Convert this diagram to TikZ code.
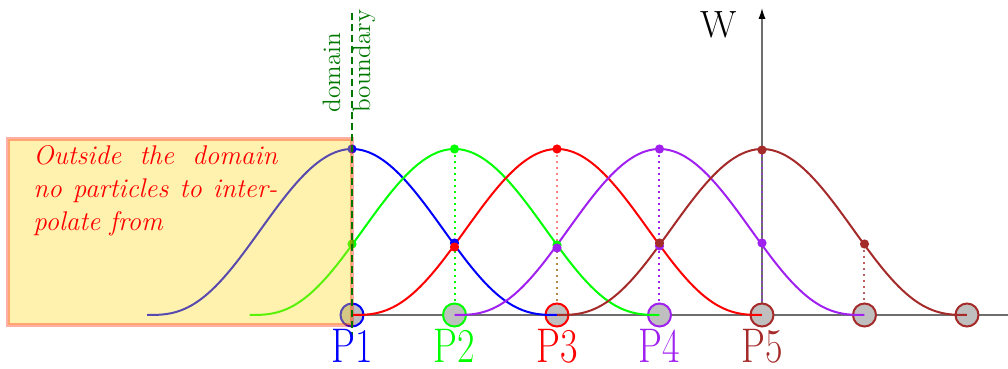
\documentclass[tikz,border=0pt]{standalone}
\usepackage{graphicx}
\usetikzlibrary{arrows.meta}
\definecolor{kbrown}{RGB}{165,42,42}
\definecolor{kpurple}{RGB}{160,32,240}
\definecolor{kgreen}{RGB}{0,255,0}
\definecolor{dgreen}{RGB}{0,120,0}
\definecolor{axisgray}{RGB}{110,110,110}
\definecolor{boxfill}{rgb}{1,0.85,0.1}
\definecolor{ktan}{RGB}{182,136,76}
\newcommand\kernelcurve[2]{\draw[kernel,#1] plot[domain=-2:2,samples=121] ({#2+102.5*\x},{315-166*(1-\x*\x/4)*(1-\x*\x/4)*(1-\x*\x/4)});}
\begin{document}
\begin{tikzpicture}[x=0.5pt,y=-0.5pt,
  kernel/.style={line width=1pt},
  particle/.style={circle, fill=gray!50, line width=1pt, minimum size=11.5pt, inner sep=0pt},
  guide/.style={line width=0.55pt, dash pattern=on 0.8pt off 2.2pt},
  axisline/.style={draw=axisgray, line width=0.8pt},
  plabel/.style={font=\fontsize{19}{21}\selectfont, anchor=base, inner sep=0pt},
  outtext/.style={font=\fontsize{13.5}{16}\selectfont\itshape, text=red, anchor=base west, inner sep=0pt},
  bndtext/.style={font=\fontsize{12.6}{15}\selectfont, text=dgreen, rotate=90, anchor=base west, inner sep=0pt}]
\useasboundingbox (0,0) rectangle (1008,369);
% axes
\coordinate (xstart) at (352,315);
\coordinate (xend) at (1008,315);
\coordinate (yorig) at (762,315);
\coordinate (ytop) at (762,8);
\draw[axisline] (xstart) -- (xend);
\draw[axisline, -{Latex[length=5.5pt,width=3.6pt,color=black]}] (yorig) -- (ytop);
% guide lines
\draw[guide, kgreen] (455,149) -- (455,315);
\draw[guide, red!50] (557,149) -- (557,245);
\draw[guide, ktan] (557,245) -- (557,315);
\draw[guide, kpurple] (659,149) -- (659,315);
\draw[guide, kpurple, opacity=0.6] (762,149) -- (762,315);
\draw[guide, kbrown!75] (864,244) -- (864,315);
% particles
\node[particle, draw=blue] (p1) at (352,315) {};
\node[particle, draw=kgreen] (p2) at (454.5,315) {};
\node[particle, draw=red] (p3) at (557,315) {};
\node[particle, draw=kpurple] (p4) at (659.5,315) {};
\node[particle, draw=kbrown] (p5) at (762,315) {};
\node[particle, draw=kbrown] (p6) at (864.5,315) {};
\node[particle, draw=kbrown] (p7) at (967,315) {};
% kernels
\kernelcurve{blue}{352}
\kernelcurve{kgreen}{454.5}
\kernelcurve{red}{557}
\kernelcurve{kpurple}{659.5}
\kernelcurve{kbrown}{762}
% sample dots
\fill[blue] (352,149) circle (2.3pt);
\fill[kgreen] (352,244) circle (2.3pt);
\fill[blue] (454.5,243) circle (2.3pt);
\fill[red] (454.5,247) circle (2.3pt);
\fill[kgreen] (454.5,149) circle (2.3pt);
\fill[kgreen] (557,245) circle (2.3pt);
\fill[kpurple] (557,248) circle (2.3pt);
\fill[red] (557,149) circle (2.3pt);
\fill[kpurple] (659.5,246) circle (2.3pt);
\fill[kbrown] (659.5,243) circle (2.3pt);
\fill[kpurple] (659.5,149) circle (2.3pt);
\fill[kpurple] (762,243) circle (2.3pt);
\fill[kbrown] (762,150) circle (2.3pt);
\fill[kbrown] (864.5,244) circle (2.3pt);
% outside box
\draw[line width=1.6pt, draw=red!80!orange, fill=boxfill, opacity=0.35] (8,139) rectangle (352,325);
% domain boundary
\coordinate (btop) at (352,13);
\coordinate (bbot) at (352,340);
\draw[dgreen, line width=1pt, dash pattern=on 3.5pt off 2pt] (btop) -- (bbot);
\node[bndtext] (dom) at (340,113) {domain};
\node[bndtext] (bnd) at (370,113) {boundary};
% texts
\node[outtext] (t1) at (33,165) {\makebox[122pt][s]{Outside the domain}};
\node[outtext] (t2) at (33,198) {\makebox[122pt][s]{no particles to inter-}};
\node[outtext] (t3) at (33,231) {polate from};
\node[font=\fontsize{19}{21}\selectfont, anchor=base, inner sep=0pt] (W) at (719,38) {W};
\node[plabel, text=blue] (l1) at (352,362) {\scalebox{1}[1.28]{P1}};
\node[plabel, text=kgreen] (l2) at (454.5,362) {\scalebox{1}[1.28]{P2}};
\node[plabel, text=red] (l3) at (557,362) {\scalebox{1}[1.28]{P3}};
\node[plabel, text=kpurple] (l4) at (659.5,362) {\scalebox{1}[1.28]{P4}};
\node[plabel, text=kbrown] (l5) at (762,362) {\scalebox{1}[1.28]{P5}};
\end{tikzpicture}
\end{document}
